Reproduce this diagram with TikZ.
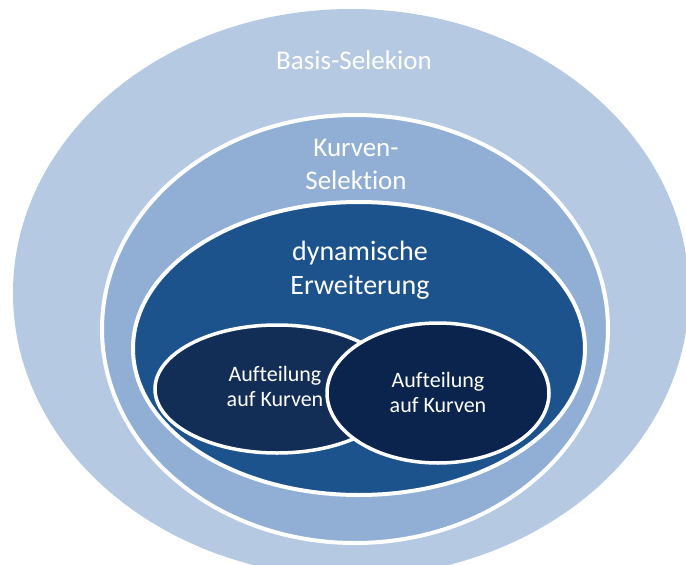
\documentclass[tikz,border=0pt]{standalone}
\usepackage{fontspec}
\setmainfont{Carlito}[Ligatures=NoCommon]
\usetikzlibrary{shapes.geometric}
\definecolor{basisblue}{RGB}{182,201,227}
\definecolor{kurvenblue}{RGB}{145,175,213}
\definecolor{dynblue}{RGB}{29,83,140}
\definecolor{leftnavy}{RGB}{19,46,86}
\definecolor{rightnavy}{RGB}{11,36,77}

\begin{document}
\begin{tikzpicture}[x=1pt,y=-1pt,
  ring/.style={ellipse, inner sep=0pt, draw=white, line width=4pt},
  lbl/.style={text=white, align=center, inner sep=0pt}]
\clip (0,0) rectangle (686,565);
% the rings, from outside in
\node [ring, draw=none, fill=basisblue, minimum width=676pt, minimum height=568pt] (basis) at (351,293) {};
\node [ring, fill=kurvenblue, minimum width=506pt, minimum height=428pt] (kurven) at (355,329) {};
\node [ring, fill=dynblue, minimum width=452pt, minimum height=293pt] (dyn) at (359,348.5) {};
\node [ring, line width=3.5pt, fill=leftnavy, minimum width=244pt, minimum height=128pt] (aufl) at (277,389) {};
\node [ring, line width=3.5pt, fill=rightnavy, minimum width=222pt, minimum height=140pt] (aufr) at (438,393) {};
% labels
\node [lbl, font=\fontsize{27}{33}\selectfont] (basistext) at (354,60) {Basis-Selekion};
\node [lbl, font=\fontsize{27}{33}\selectfont] (kurventext) at (356,164) {Kurven-\\Selektion};
\node [lbl, font=\fontsize{28}{34}\selectfont] (dyntext) at (360,270) {dynamische\\Erweiterung};
\node [lbl, font=\fontsize{22}{25}\selectfont] (afltext) at (275,386) {Aufteilung\\auf Kurven};
\node [lbl, font=\fontsize{22}{25}\selectfont] (afrtext) at (438,392) {Aufteilung\\auf Kurven};
\end{tikzpicture}
\end{document}
